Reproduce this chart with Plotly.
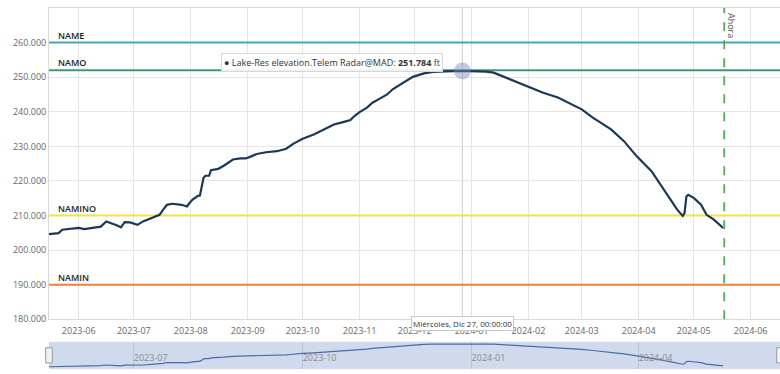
import plotly.graph_objects as go

# ---------------- data ----------------
dates = [
    "2023-05-15", "2023-05-21", "2023-05-23", "2023-05-27", "2023-06-01", "2023-06-04",
    "2023-06-07", "2023-06-11", "2023-06-13", "2023-06-16", "2023-06-19", "2023-06-22",
    "2023-06-24", "2023-06-26", "2023-06-29", "2023-07-03", "2023-07-06", "2023-07-09",
    "2023-07-12", "2023-07-15", "2023-07-17", "2023-07-19", "2023-07-22", "2023-07-27",
    "2023-07-30", "2023-07-31", "2023-08-02", "2023-08-05", "2023-08-06", "2023-08-07",
    "2023-08-08", "2023-08-09", "2023-08-11", "2023-08-12", "2023-08-16", "2023-08-19",
    "2023-08-24", "2023-08-28", "2023-08-31", "2023-09-03", "2023-09-06", "2023-09-11",
    "2023-09-17", "2023-09-22", "2023-09-24", "2023-09-26", "2023-10-01", "2023-10-07",
    "2023-10-12", "2023-10-18", "2023-10-23", "2023-10-27", "2023-10-29", "2023-11-01",
    "2023-11-05", "2023-11-08", "2023-11-12", "2023-11-16", "2023-11-19", "2023-11-25",
    "2023-11-30", "2023-12-06", "2023-12-11", "2023-12-18", "2023-12-22", "2023-12-27",
    "2024-01-04", "2024-01-09", "2024-01-13", "2024-01-22", "2024-01-31", "2024-02-09",
    "2024-02-17", "2024-02-24", "2024-03-01", "2024-03-07", "2024-03-17", "2024-03-24",
    "2024-03-31", "2024-04-08", "2024-04-13", "2024-04-18", "2024-04-22", "2024-04-25",
    "2024-04-26", "2024-04-27", "2024-04-28", "2024-05-01", "2024-05-05", "2024-05-08",
    "2024-05-12", "2024-05-17",
]
elevation = [
    204.6, 204.9, 205.9, 206.2, 206.4, 206.1,
    206.4, 206.8, 206.8, 208.3, 207.8, 207.1,
    206.6, 208.1, 208.0, 207.3, 208.3, 209.0,
    209.6, 210.2, 211.7, 213.1, 213.4, 213.1,
    212.6, 213.4, 214.6, 215.7, 215.8, 218.0,
    220.9, 221.5, 221.5, 223.1, 223.5, 224.4,
    226.2, 226.5, 226.5, 227.1, 227.8, 228.3,
    228.6, 229.3, 230.0, 230.8, 232.2, 233.4,
    234.7, 236.3, 237.0, 237.6, 238.7, 239.9,
    241.2, 242.6, 243.8, 245.0, 246.5, 248.4,
    250.1, 251.1, 251.5, 251.7, 251.75, 251.784,
    251.7, 251.6, 251.3, 249.4, 247.4, 245.5,
    244.1, 242.3, 240.7, 238.3, 234.9, 231.5,
    227.1, 222.8, 218.9, 215.1, 211.7, 209.9,
    210.7, 215.5, 216.0, 215.1, 213.1, 210.2,
    208.8, 206.4,
]
series_name = "Lake-Res elevation.Telem Radar@MAD"
unit = "ft"

level_names = ["NAME", "NAMO", "NAMINO", "NAMIN"]
level_values = [260.0, 252.0, 210.0, 190.0]
level_colors = ["#3fa9b6", "#3f9778", "#f3e14a", "#ef7f3e"]

y_ticks = [180, 190, 200, 210, 220, 230, 240, 250, 260]
y_tick_labels = ["180.000", "190.000", "200.000", "210.000", "220.000",
                 "230.000", "240.000", "250.000", "260.000"]
y_range = [180, 270]
x_range = ["2023-05-15 19:00", "2024-06-17 00:00"]

nav_ticks = ["2023-07-01", "2023-10-01", "2024-01-01", "2024-04-01"]
nav_tick_labels = ["2023-07", "2023-10", "2024-01", "2024-04"]
nav_y_range = [200, 256.5]

now_date = "2024-05-17 14:00"
now_label = "Ahora"
hover_index = dates.index("2023-12-27")
hover_x_label = "Miércoles, Dic 27, 00:00:00"

LINE = "#1b3856"
FONT = "Open Sans"

# ---------------- figure ----------------
fig = go.Figure()

# plot lines (levels) drawn as traces so they sit above the gridlines
for name, val, col in zip(level_names, level_values, level_colors):
    fig.add_trace(go.Scatter(
        x=x_range, y=[val, val], mode="lines", name=name,
        line=dict(color=col, width=2), xaxis="x", yaxis="y", hoverinfo="skip",
    ))

fig.add_trace(go.Scatter(
    x=dates, y=elevation, mode="lines", name=series_name,
    line=dict(color=LINE, width=2.2), xaxis="x", yaxis="y", hoverinfo="skip",
))
fig.add_trace(go.Scatter(
    x=[dates[hover_index]], y=[elevation[hover_index]], mode="markers",
    marker=dict(size=17, color="rgba(120,140,175,0.45)", line=dict(width=0)),
    xaxis="x", yaxis="y", hoverinfo="skip",
))
# navigator series
fig.add_trace(go.Scatter(
    x=dates, y=elevation, mode="lines",
    line=dict(color="#4a6ba8", width=1.2), xaxis="x2", yaxis="y2", hoverinfo="skip",
))

shapes = []
annotations = []
for name, val in zip(level_names, level_values):
    annotations.append(dict(text=name, xref="x domain", yref="y", x=0.01, y=val,
                            xanchor="left", yanchor="bottom", showarrow=False, yshift=-1,
                            font=dict(family=FONT, size=9, color="#222", weight=600)))

# crosshair
shapes.append(dict(type="line", xref="x", yref="y domain", x0=dates[hover_index], x1=dates[hover_index],
                   y0=0, y1=1, line=dict(color="#cfcfcf", width=1), layer="below"))
# now line
shapes.append(dict(type="line", xref="x", yref="y domain", x0=now_date, x1=now_date,
                   y0=0, y1=1, line=dict(color="#3aaa3a", width=1.5, dash="dash"), layer="above"))
# navigator background
shapes.append(dict(type="rect", xref="x2 domain", yref="y2 domain", x0=0, x1=1, y0=0, y1=1,
                   fillcolor="#d1daed", line=dict(width=0), layer="below"))
# navigator handles
for hx in (0.0, 1.0):
    shapes.append(dict(type="rect", xref="x2 domain", yref="y2 domain",
                       x0=hx - 0.0045, x1=hx + 0.0045, y0=0.22, y1=0.78,
                       fillcolor="#f2f2f2", line=dict(color="#999999", width=1), layer="above"))

annotations.append(dict(
    text=now_label, xref="x", yref="y domain", x=now_date, y=0.99, xanchor="left", yanchor="top",
    xshift=-1, textangle=90, showarrow=False, font=dict(family=FONT, size=9, color="#555")))

annotations.append(dict(
    text=f"<span style='color:{LINE}'>●</span> {series_name}: <b>{elevation[hover_index]:.3f}</b> {unit}",
    xref="x", yref="y", x=dates[hover_index], y=254.3, xanchor="right", yanchor="middle",
    xshift=-19, showarrow=False, bgcolor="rgba(255,255,255,0.9)", bordercolor="#d6d6d6",
    borderwidth=1, borderpad=2, font=dict(family=FONT, size=9, color="#333")))

annotations.append(dict(
    text=hover_x_label, xref="x", yref="y domain", x=dates[hover_index], y=0, xanchor="center",
    yanchor="middle", yshift=-4, showarrow=False, bgcolor="white", bordercolor="#c8c8c8",
    borderwidth=1, borderpad=1, font=dict(family=FONT, size=8, color="#333")))

fig.update_layout(
    width=780, height=374,
    margin=dict(l=49, r=0, t=8, b=5),
    paper_bgcolor="white", plot_bgcolor="white",
    showlegend=False, hovermode=False,
    font=dict(family=FONT, size=9, color="#666"),
    shapes=shapes, annotations=annotations,
    xaxis=dict(
        type="date", range=x_range, domain=[0, 1], anchor="y",
        dtick="M1", tick0="2023-06-01", tickformat="%Y-%m",
        showgrid=True, gridcolor="#e4e4e4", gridwidth=1,
        showline=True, linecolor="#d9d9d9", mirror=True, ticks="",
        ticklabelstandoff=3,
        tickfont=dict(family=FONT, size=9, color="#666"), zeroline=False,
    ),
    yaxis=dict(
        range=y_range, domain=[0.1377, 1], anchor="x",
        tickvals=y_ticks, ticktext=y_tick_labels,
        showgrid=True, gridcolor="#e4e4e4", gridwidth=1,
        showline=True, linecolor="#d9d9d9", zeroline=False, ticks="",
        tickfont=dict(family=FONT, size=9, color="#666"),
    ),
    xaxis2=dict(
        type="date", range=x_range, domain=[0, 1], anchor="y2",
        tickvals=nav_ticks, ticktext=nav_tick_labels,
        ticklabelposition="inside right", ticks="",
        showgrid=True, gridcolor="rgba(140,150,175,0.35)", gridwidth=1,
        showline=False, zeroline=False,
        tickfont=dict(family=FONT, size=9, color="#8a8a8a"),
    ),
    yaxis2=dict(
        range=nav_y_range, domain=[0, 0.0756], anchor="x2",
        showticklabels=False, showgrid=False, zeroline=False, showline=False, ticks="",
    ),
)

fig.write_html("out.html", config={"displayModeBar": False},
               post_script="document.body.style.margin='0';")
